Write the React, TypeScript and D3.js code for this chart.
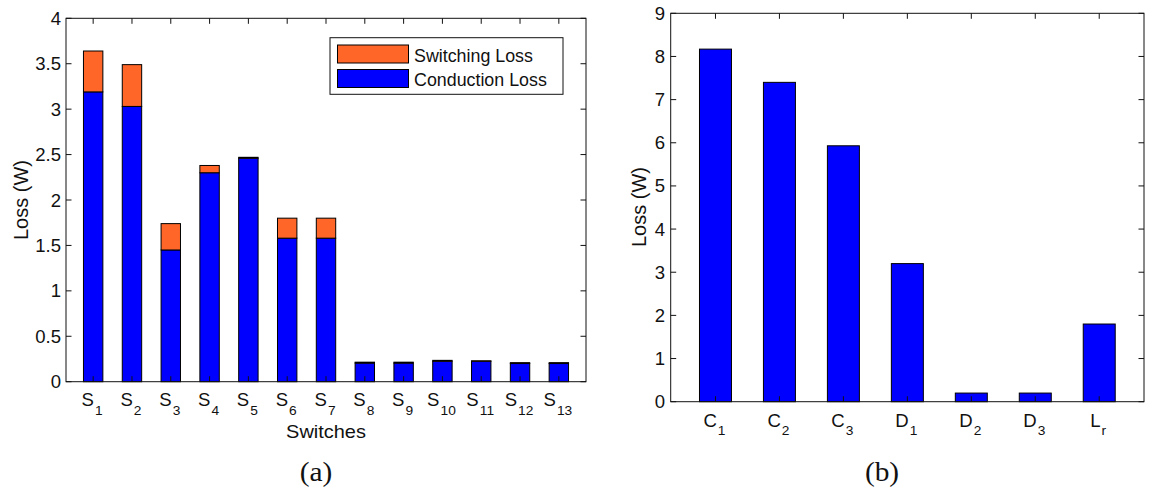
import React from "react";
import * as d3 from "d3";

// ---- data: panel (a) switch losses ----
const switchNames = ["1", "2", "3", "4", "5", "6", "7", "8", "9", "10", "11", "12", "13"];
const conductionLoss = [3.19, 3.03, 1.45, 2.3, 2.46, 1.58, 1.58, 0.205, 0.205, 0.225, 0.225, 0.2, 0.2];
const switchingLoss = [0.45, 0.46, 0.29, 0.08, 0.01, 0.22, 0.22, 0.01, 0.01, 0.01, 0.005, 0.01, 0.01];
const lossTicksA = [0, 0.5, 1, 1.5, 2, 2.5, 3, 3.5, 4];

// ---- data: panel (b) passive component losses ----
const compMain = ["C", "C", "C", "D", "D", "D", "L"];
const compSub = ["1", "2", "3", "1", "2", "3", "r"];
const compLoss = [8.17, 7.4, 5.93, 3.2, 0.2, 0.2, 1.8];
const lossTicksB = [0, 1, 2, 3, 4, 5, 6, 7, 8, 9];

const legendItems = ["Switching Loss", "Conduction Loss"];

const ORANGE = "#ff6628";
const BLUE = "#0000ff";
const INK = "#111";
const FONT = "Arial, 'Liberation Sans', Helvetica, sans-serif";
const SERIF = "'Liberation Serif', 'Times New Roman', serif";

function Txt({ x, y, size, anchor = "start", sx = 1.06, rotate = 0, family = FONT, children }: any) {
  return (
    <g transform={`translate(${x},${y}) rotate(${rotate}) scale(${sx},1)`}>
      <text fontFamily={family} fontSize={size} textAnchor={anchor} fill={INK}>
        {children}
      </text>
    </g>
  );
}

function Frame({ x, y, ticksX, ticksY, tickLen }: any) {
  const [x0, x1] = x.range();
  const [y0, y1] = y.range();
  return (
    <g stroke={INK} strokeWidth={1} fill="none">
      <rect x={x0} y={y1} width={x1 - x0} height={y0 - y1} />
      {ticksX.map((t: number) => (
        <g key={"x" + t}>
          <line x1={x(t)} x2={x(t)} y1={y0} y2={y0 - tickLen} />
          <line x1={x(t)} x2={x(t)} y1={y1} y2={y1 + tickLen} />
        </g>
      ))}
      {ticksY.map((t: number) => (
        <g key={"y" + t}>
          <line x1={x0} x2={x0 + tickLen} y1={y(t)} y2={y(t)} />
          <line x1={x1} x2={x1 - tickLen} y1={y(t)} y2={y(t)} />
        </g>
      ))}
    </g>
  );
}

export default function App() {
  // panel (a)
  const idxA = switchNames.map((_, i) => i + 1);
  const xA = d3.scaleLinear().domain([0.3, 13.7]).range([66, 586]);
  const yA = d3.scaleLinear().domain([0, 4]).range([381.7, 18.3]);
  const bwA = xA(1.5) - xA(1);
  const stack = d3.stack<any>().keys(["cond", "sw"])(
    switchNames.map((_, i) => ({ cond: conductionLoss[i], sw: switchingLoss[i] }))
  );

  // panel (b)
  const idxB = compMain.map((_, i) => i + 1);
  const xB = d3.scaleLinear().domain([0.3, 7.7]).range([670.7, 1144]);
  const yB = d3.scaleLinear().domain([0, 9]).range([401.7, 13.3]);
  const bwB = xB(1.5) - xB(1);

  const tickFont = 17.5;
  const subFont = 13;
  const labelFont = 19;

  return (
    <svg
      width={1154}
      height={490}
      style={{ position: "absolute", left: 0, top: 0, background: "#fff" }}
    >
      <rect width={1154} height={490} fill="#fff" />

      {/* panel (a): stacked bars */}
      {stack.map((layer, li) => (
        <g key={li} fill={li === 0 ? BLUE : ORANGE} stroke="#000" strokeWidth={1}>
          {layer.map((d, i) => (
            <rect
              key={i}
              x={xA(idxA[i]) - bwA / 2}
              y={yA(d[1])}
              width={bwA}
              height={yA(d[0]) - yA(d[1])}
            />
          ))}
        </g>
      ))}
      <Frame x={xA} y={yA} ticksX={idxA} ticksY={lossTicksA} tickLen={5.5} />
      {lossTicksA.map((t) => (
        <Txt key={t} x={61} y={yA(t) + 6.5} size={tickFont} anchor="end">
          {String(t)}
        </Txt>
      ))}
      {switchNames.map((s, i) => (
        <Txt key={s} x={xA(idxA[i]) - 1} y={405.5} size={tickFont} anchor="middle">
          S<tspan dx={1} dy={9.5} fontSize={subFont}>{s}</tspan>
        </Txt>
      ))}
      <Txt x={326} y={438} size={labelFont} anchor="middle" sx={1.05}>Switches</Txt>
      <Txt x={28} y={200} size={20} anchor="middle" rotate={-90} sx={1}>
        Loss (W)
      </Txt>

      {/* legend */}
      <rect x={330} y={37.7} width={233} height={56.6} fill="#fff" stroke={INK} strokeWidth={1} />
      {legendItems.map((name, i) => (
        <g key={name}>
          <rect
            x={337.5}
            y={45 + i * 24.5}
            width={71}
            height={18}
            fill={i === 0 ? ORANGE : BLUE}
            stroke="#000"
            strokeWidth={1}
          />
          <Txt x={414} y={61.5 + i * 24.5} size={tickFont} sx={1.02}>{name}</Txt>
        </g>
      ))}

      {/* panel (b): single bars */}
      <g fill={BLUE} stroke="#000" strokeWidth={1}>
        {compLoss.map((v, i) => (
          <rect
            key={i}
            x={xB(idxB[i]) - bwB / 2}
            y={yB(v)}
            width={bwB}
            height={yB(0) - yB(v)}
          />
        ))}
      </g>
      <Frame x={xB} y={yB} ticksX={idxB} ticksY={lossTicksB} tickLen={5.5} />
      {lossTicksB.map((t) => (
        <Txt key={t} x={665} y={yB(t) + 6.5} size={tickFont} anchor="end">
          {String(t)}
        </Txt>
      ))}
      {compMain.map((c, i) => (
        <Txt key={i} x={xB(idxB[i]) - 1} y={426.5} size={tickFont} anchor="middle">
          {c}
          <tspan dx={1} dy={8.5} fontSize={subFont}>{compSub[i]}</tspan>
        </Txt>
      ))}
      <Txt x={646} y={207} size={20} anchor="middle" rotate={-90} sx={1}>
        Loss (W)
      </Txt>

      {/* panel captions */}
      <Txt x={316} y={481} size={28} anchor="middle" family={SERIF} sx={1.05}>
        (a)
      </Txt>
      <Txt x={882} y={481} size={28} anchor="middle" family={SERIF} sx={1.05}>
        (b)
      </Txt>
    </svg>
  );
}
